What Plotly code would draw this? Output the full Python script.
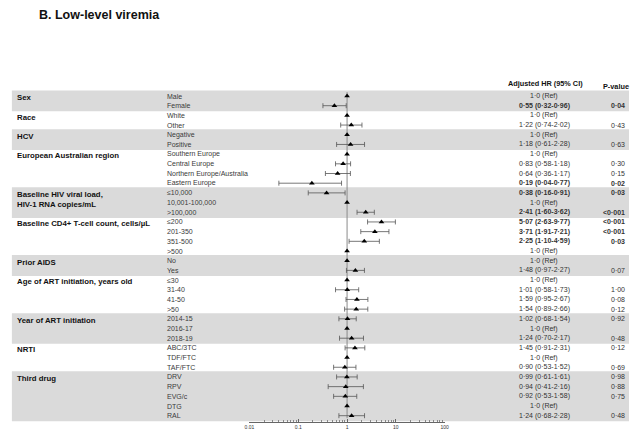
import plotly.graph_objects as go

# ---------------- data ----------------
groups = ["Sex", "Race", "HCV", "European Australian region",
          "Baseline HIV viral load,<br>HIV-1 RNA copies/mL",
          "Baseline CD4+ T-cell count, cells/µL", "Prior AIDS",
          "Age of ART initiation, years old", "Year of ART initiation",
          "NRTI", "Third drug"]
group_sizes = [2, 2, 2, 4, 3, 4, 2, 4, 3, 3, 5]
group_shaded = [True, False, True, False, True, False, True, False, True, False, True]

categories = ["Male", "Female", "White", "Other", "Negative", "Positive",
              "Southern Europe", "Central Europe", "Northern Europe/Australia", "Eastern Europe",
              "≤10,000", "10,001-100,000", ">100,000",
              "≤200", "201-350", "351-500", ">500",
              "No", "Yes",
              "≤30", "31-40", "41-50", ">50",
              "2014-15", "2016-17", "2018-19",
              "ABC/3TC", "TDF/FTC", "TAF/FTC",
              "DRV", "RPV", "EVG/c", "DTG", "RAL"]
is_ref = [1, 0, 1, 0, 1, 0,
          1, 0, 0, 0,
          0, 1, 0,
          0, 0, 0, 1,
          1, 0,
          1, 0, 0, 0,
          0, 1, 0,
          0, 1, 0,
          0, 0, 0, 1, 0]
hr = [1.0, 0.55, 1.0, 1.22, 1.0, 1.18,
      1.0, 0.83, 0.64, 0.19,
      0.38, 1.0, 2.41,
      5.07, 3.71, 2.25, 1.0,
      1.0, 1.48,
      1.0, 1.01, 1.59, 1.54,
      1.02, 1.0, 1.24,
      1.45, 1.0, 0.90,
      0.99, 0.94, 0.92, 1.0, 1.24]
lo = [1.0, 0.32, 1.0, 0.74, 1.0, 0.61,
      1.0, 0.58, 0.36, 0.04,
      0.16, 1.0, 1.60,
      2.63, 1.91, 1.10, 1.0,
      1.0, 0.97,
      1.0, 0.58, 0.95, 0.89,
      0.68, 1.0, 0.70,
      0.91, 1.0, 0.53,
      0.61, 0.41, 0.53, 1.0, 0.68]
hi = [1.0, 0.96, 1.0, 2.02, 1.0, 2.28,
      1.0, 1.18, 1.17, 0.77,
      0.91, 1.0, 3.62,
      9.77, 7.21, 4.59, 1.0,
      1.0, 2.27,
      1.0, 1.73, 2.67, 2.66,
      1.54, 1.0, 2.17,
      2.31, 1.0, 1.52,
      1.61, 2.16, 1.58, 1.0, 2.28]
pvals = ["", "0·04", "", "0·43", "", "0·63",
         "", "0·30", "0·15", "0·02",
         "0·03", "", "<0·001",
         "<0·001", "<0·001", "0·03", "",
         "", "0·07",
         "", "1·00", "0·08", "0·12",
         "0·92", "", "0·48",
         "0·12", "", "0·69",
         "0·98", "0·88", "0·75", "", "0·48"]
tick_vals = [0.01, 0.1, 1, 10, 100]
tick_text = ["0.01", "0.1", "1", "10", "100"]
minor_vals = [m * d for d in [0.01, 0.1, 1, 10] for m in range(2, 10)]

# ---------------- layout helpers ----------------
W, H = 634, 433
row0_px, row_step = 96.0, 9.688
ytop = -row0_px / row_step
ybot = (H - row0_px) / row_step
FONT = "Arial, Liberation Sans, sans-serif"


def fmt(v):
    return f"{v:.2f}".replace(".", "·")


def sig(p):
    if not p:
        return False
    if p.startswith("<"):
        return True
    return float(p.replace("·", ".")) < 0.05


rows = list(range(len(categories)))
fig = go.Figure()

# shaded bands + group labels
start = 0
for g, n, sh in zip(groups, group_sizes, group_shaded):
    if sh:
        fig.add_shape(type="rect", xref="paper", yref="y", x0=7 / W, x1=633 / W,
                      y0=start - 0.58, y1=start + n - 1 + 0.58,
                      fillcolor="#dadada", line_width=0, layer="below")
    fig.add_annotation(x=10 / W, xref="paper", y=start - 0.5, yref="y", text=f"<b>{g}</b>",
                       showarrow=False, xanchor="left", yanchor="top", align="left",
                       font=dict(family=FONT, size=7.8, color="#111"))
    start += n

# vertical reference line at HR = 1
fig.add_shape(type="line", xref="x", yref="y", x0=1, x1=1, y0=-0.4, y1=len(categories) - 0.75,
              line=dict(color="#8a8a8a", width=1), layer="below")

# estimates with CI
nr = [i for i in rows if not is_ref[i]]
fig.add_trace(go.Scatter(
    x=[hr[i] for i in nr], y=nr, mode="markers",
    marker=dict(symbol="triangle-up", size=5, color="black"),
    error_x=dict(type="data", symmetric=False,
                 array=[hi[i] - hr[i] for i in nr],
                 arrayminus=[hr[i] - lo[i] for i in nr],
                 color="#555", thickness=0.8, width=2.5),
    hoverinfo="skip"))
rr = [i for i in rows if is_ref[i]]
fig.add_trace(go.Scatter(
    x=[hr[i] for i in rr], y=rr, mode="markers",
    marker=dict(symbol="triangle-up", size=5, color="black"), hoverinfo="skip"))

# category labels and table text
for i in rows:
    fig.add_annotation(x=162 / W, xref="paper", y=i, yref="y", text=categories[i],
                       showarrow=False, xanchor="left", yanchor="middle",
                       font=dict(family=FONT, size=7, color="#3a3a3a"))
    bold = sig(pvals[i])
    t = "1·0 (Ref)" if is_ref[i] else f"{fmt(hr[i])} ({fmt(lo[i])}-{fmt(hi[i])})"
    if bold:
        t = f"<b>{t}</b>"
    fig.add_annotation(x=547 / W, xref="paper", y=i, yref="y", text=t, showarrow=False,
                       xanchor="center", yanchor="middle",
                       font=dict(family=FONT, size=7, color="#333"))
    if pvals[i]:
        p = f"<b>{pvals[i]}</b>" if bold else pvals[i]
        fig.add_annotation(x=631 / W, xref="paper", y=i, yref="y", text=p, showarrow=False,
                           xanchor="right", yanchor="middle",
                           font=dict(family=FONT, size=7, color="#333"))

# headers and title
fig.add_annotation(x=548 / W, xref="paper", y=1 - 83.5 / H, yref="paper",
                   text="<b>Adjusted HR (95% CI)</b>", showarrow=False,
                   xanchor="center", yanchor="middle", font=dict(family=FONT, size=7.3, color="#111"))
fig.add_annotation(x=620 / W, xref="paper", y=1 - 86.5 / H, yref="paper",
                   text="<b>P-value</b>", showarrow=False,
                   xanchor="center", yanchor="middle", font=dict(family=FONT, size=7.3, color="#111"))
fig.add_annotation(x=32 / W, xref="paper", y=1 - 15 / H, yref="paper",
                   text="<b>B. Low-level viremia</b>", showarrow=False,
                   xanchor="left", yanchor="middle", font=dict(family=FONT, size=12.5, color="#111"))

fig.update_layout(
    width=W, height=H, margin=dict(l=0, r=0, t=0, b=0),
    paper_bgcolor="white", plot_bgcolor="rgba(0,0,0,0)", showlegend=False,
    xaxis=dict(type="log", range=[-2, 2], domain=[248 / W, 446 / W],
               anchor="free", position=1 - 422 / H,
               showline=True, linecolor="#666", linewidth=0.8,
               ticks="inside", ticklen=3, tickcolor="#666", tickwidth=0.8,
               tickvals=tick_vals, ticktext=tick_text,
               tickfont=dict(family=FONT, size=5, color="#333"),
               minor=dict(tickvals=minor_vals, ticks="inside", ticklen=2,
                          tickcolor="#888", tickwidth=0.6, showgrid=False),
               showgrid=False, zeroline=False, fixedrange=True),
    yaxis=dict(range=[ybot, ytop], domain=[0, 1], visible=False, fixedrange=True),
)

fig.write_html("out.html")
